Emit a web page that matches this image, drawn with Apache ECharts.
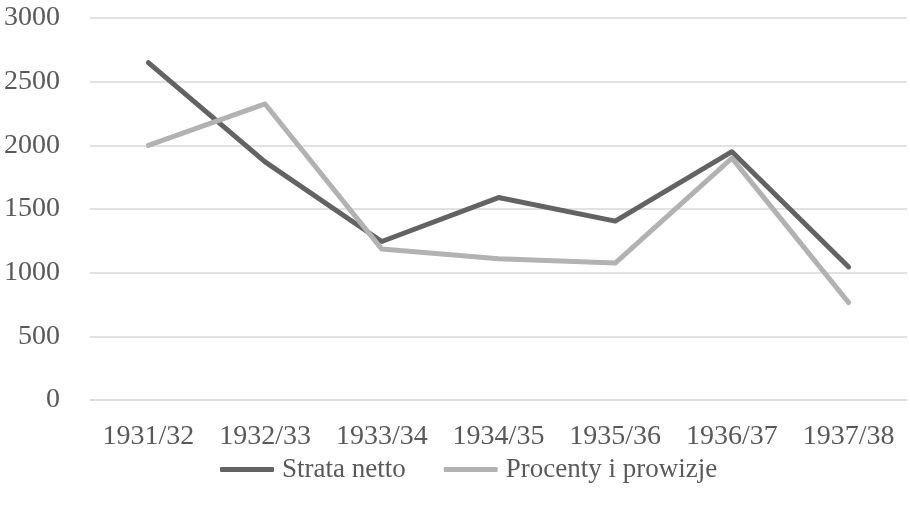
<!DOCTYPE html>
<html>
<head>
<meta charset="utf-8">
<script src="https://cdn.jsdelivr.net/npm/echarts@6/dist/echarts.min.js"></script>
<style>html,body{margin:0;padding:0;background:#fff}#c{width:910px;height:511px}</style>
</head>
<body>
<div id="c"></div>
<script>
const categories = ['1931/32','1932/33','1933/34','1934/35','1935/36','1936/37','1937/38'];
const strataNetto = [2650, 1870, 1245, 1590, 1405, 1950, 1045];
const procenty = [2000, 2325, 1185, 1110, 1075, 1900, 765];
const yTicks = {min: 0, max: 3000, interval: 500};

const font = 'Liberation Serif';
const chart = echarts.init(document.getElementById('c'));
chart.setOption({
  animation: false,
  grid: {left: 90, right: 3, top: 18, bottom: 111, containLabel: false},
  legend: {
    bottom: 23, left: 215, itemWidth: 54, itemHeight: 5, itemGap: 38,
    icon: 'roundRect',
    textStyle: {fontFamily: font, fontSize: 27, color: '#595959', padding: [0,0,0,3]},
    data: ['Strata netto', 'Procenty i prowizje']
  },
  xAxis: {
    type: 'category', data: categories, boundaryGap: true,
    axisLine: {show: true, lineStyle: {color: '#d9d9d9', width: 1.5}},
    axisTick: {show: false},
    axisLabel: {fontFamily: font, fontSize: 28, color: '#595959', margin: 23, interval: 0}
  },
  yAxis: {
    type: 'value', min: yTicks.min, max: yTicks.max, interval: yTicks.interval,
    axisLine: {show: false}, axisTick: {show: false},
    splitLine: {lineStyle: {color: '#d9d9d9', width: 1.5}},
    axisLabel: {fontFamily: font, fontSize: 28, color: '#595959', margin: 30,
      formatter: v => String(v)}
  },
  series: [
    {name: 'Strata netto', type: 'line', data: strataNetto, symbol: 'none',
     lineStyle: {color: '#636363', width: 5, cap: 'round', join: 'round'}, itemStyle: {color: '#636363'}},
    {name: 'Procenty i prowizje', type: 'line', data: procenty, symbol: 'none',
     lineStyle: {color: '#b2b2b2', width: 5, cap: 'round', join: 'round'}, itemStyle: {color: '#b2b2b2'}}
  ]
});
</script>
</body>
</html>
